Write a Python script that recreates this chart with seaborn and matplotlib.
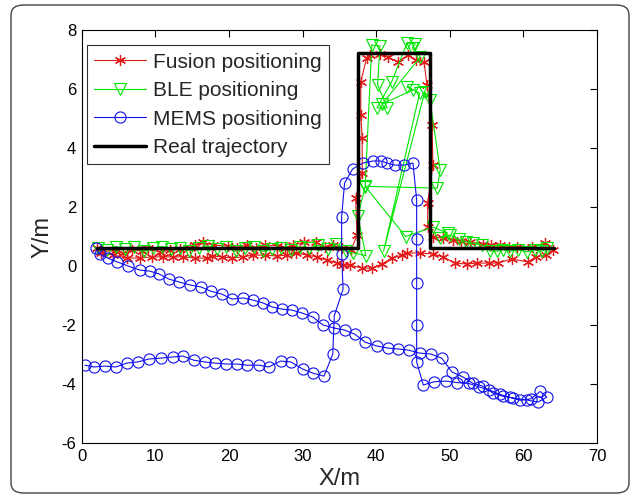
import matplotlib
matplotlib.use("Agg")
import matplotlib.pyplot as plt
from matplotlib.patches import FancyBboxPatch
import seaborn as sns
import pandas as pd

# ---- data ----
real_x = [2.0, 37.5, 37.5, 47.3, 47.3, 64.2]
real_y = [0.6, 0.6, 7.22, 7.22, 0.6, 0.6]

fusion_x = [2.0, 2.6, 4.5, 5.6, 6.8, 8.2, 9.0, 10.6, 12.0, 13.3, 14.7, 15.4, 16.4, 17.8,
            19.8, 21.1, 22.4, 23.6, 24.9, 26.5, 27.6, 28.7, 30.2, 31.8, 33.0, 34.1, 35.4,
            36.6, 37.4, 37.2, 38.1, 38.1, 37.9, 37.9, 38.7, 39.1, 40.5, 41.6, 43.0, 44.3,
            45.4, 46.5, 46.9, 47.6, 47.7, 47.0, 47.0, 47.7, 49.1, 50.4, 51.5, 52.7, 54.5,
            55.6, 56.8, 58.0, 59.1, 61.2, 62.9, 64.0, 63.1, 61.7, 60.6, 58.4, 56.5, 55.3,
            53.7, 52.3, 50.7, 49.1, 47.7, 45.9, 44.2, 43.5, 42.1, 40.8, 39.4, 38.1, 36.4,
            35.5, 34.7, 33.3, 31.9, 30.6, 29.1, 27.9, 26.5, 24.9, 23.2, 21.9, 20.4, 19.0,
            17.7, 17.0, 15.4, 13.7, 12.4, 11.0, 9.5, 7.9, 6.1, 4.2, 2.6]
fusion_y = [0.6, 0.51, 0.51, 0.44, 0.54, 0.51, 0.61, 0.47, 0.54, 0.58, 0.61, 0.71, 0.81, 0.71,
            0.68, 0.62, 0.71, 0.6, 0.71, 0.68, 0.6, 0.71, 0.81, 0.81, 0.65, 0.71, 0.62,
            0.55, 1.05, 2.31, 3.15, 4.34, 5.12, 6.24, 7.05, 7.15, 7.19, 7.08, 6.92, 7.15,
            6.98, 6.92, 6.14, 4.78, 3.42, 2.14, 1.32, 0.98, 0.95, 0.88, 0.85, 0.81, 0.75,
            0.72, 0.71, 0.65, 0.64, 0.64, 0.78, 0.54, 0.37, 0.31, 0.14, 0.24, 0.1, 0.1,
            0.1, 0.07, 0.1, 0.31, 0.41, 0.44, 0.44, 0.37, 0.27, 0.07, -0.07, -0.07, 0.03,
            0.03, 0.1, 0.2, 0.31, 0.37, 0.44, 0.37, 0.34, 0.37, 0.37, 0.31, 0.27, 0.31,
            0.34, 0.27, 0.27, 0.31, 0.31, 0.31, 0.31, 0.27, 0.27, 0.37, 0.44]

ble_x = [2.2, 3.4, 4.6, 5.9, 7.1, 8.4, 9.6, 10.9, 12.1, 13.4, 14.6, 15.9, 17.1, 18.4, 19.6,
         20.9, 22.1, 23.4, 24.6, 25.9, 27.1, 28.4, 29.6, 30.9, 32.1, 33.4, 34.6, 35.9,
         36.8, 38.6, 37.5, 38.5, 39.4, 40.5, 40.2, 41.5, 40.1, 42.1, 44.2, 45.3, 44.9,
         46.0, 40.8, 45.0, 44.2, 45.9, 41.0, 46.6, 47.3, 48.7, 48.3, 38.5, 44.0, 47.7,
         49.7, 48.7, 50.0, 51.3, 52.2, 53.1, 54.4, 55.5, 56.4, 57.2, 58.2, 59.3, 60.5,
         61.6, 62.5, 63.2]
ble_y = [0.62, 0.55, 0.66, 0.58, 0.63, 0.5, 0.6, 0.66, 0.57, 0.62, 0.52, 0.6, 0.68, 0.58, 0.63,
         0.5, 0.6, 0.64, 0.5, 0.58, 0.62, 0.55, 0.65, 0.6, 0.7, 0.58, 0.75, 0.5,
         0.45, 0.35, 1.7, 2.68, 7.49, 7.46, 6.14, 5.36, 5.36, 6.24, 7.56, 7.53, 7.39,
         7.08, 5.49, 5.97, 6.07, 5.86, 0.5, 5.9, 5.63, 3.25, 2.64, 2.70, 1.0, 1.32,
         1.12, 0.95, 1.05, 0.9, 0.82, 0.78, 0.71, 0.51, 0.5, 0.55, 0.5, 0.55, 0.48,
         0.55, 0.5, 0.6]

mems_x = [1.9, 2.4, 3.5, 4.8, 6.3, 7.9, 9.2, 10.5, 11.8, 13.2, 14.7, 16.2, 17.5, 19.0, 20.4,
          21.9, 23.2, 24.6, 25.9, 27.2, 28.5, 29.9, 31.4, 32.8, 34.3, 35.7, 37.1, 38.5,
          40.1, 41.6, 43.0, 44.4, 45.9, 47.4, 48.9, 50.3, 51.8, 53.1, 54.5, 55.9, 57.2,
          58.6, 60.5, 62.0, 63.2,
          62.3, 61.0, 59.6, 58.2, 56.8, 55.4, 54.0, 52.6, 51.0, 49.5, 47.9, 46.4, 45.5,
          45.5, 45.5, 45.5, 45.5, 45.0, 43.8, 42.5, 41.5, 40.6, 39.6, 38.2, 36.8, 35.7,
          35.3, 35.3, 35.5, 34.3, 34.1, 32.9, 31.4, 30.0, 28.4, 27.0, 25.4, 24.1, 22.4,
          21.1, 19.6, 18.1, 16.7, 15.2, 13.7, 12.4, 10.7, 9.1, 7.6, 6.1, 4.6, 3.1, 1.6, 0.4]
mems_y = [0.61, 0.41, 0.27, 0.14, 0.0, -0.14, -0.17, -0.27, -0.44, -0.54, -0.64, -0.71, -0.85,
          -0.95, -1.12, -1.08, -1.15, -1.25, -1.39, -1.46, -1.49, -1.59, -1.73, -2.0, -2.1,
          -2.17, -2.31, -2.58, -2.71, -2.78, -2.81, -2.85, -2.95, -2.98, -3.12, -3.59, -3.76,
          -3.97, -4.07, -4.31, -4.41, -4.47, -4.54, -4.61, -4.44,
          -4.25, -4.5, -4.55, -4.45, -4.35, -4.2, -4.1, -3.98, -3.95, -3.9, -3.92, -4.03,
          -3.25, -2.0, -0.58, 0.92, 2.24, 3.49, 3.42, 3.42, 3.49, 3.56, 3.56, 3.49, 3.29,
          2.81, 1.66, 0.41, -0.78, -1.69, -2.98, -3.73, -3.63, -3.49, -3.25, -3.22, -3.42,
          -3.36, -3.36, -3.32, -3.32, -3.29, -3.25, -3.19, -3.05, -3.08, -3.12, -3.15, -3.25,
          -3.29, -3.42, -3.39, -3.42, -3.36]

x_ticks = [0, 10, 20, 30, 40, 50, 60, 70]
y_ticks = [-6, -4, -2, 0, 2, 4, 6, 8]

# ---- style ----
sns.set_style("white")
plt.rcParams['font.family'] = ['Liberation Sans', 'DejaVu Sans']

fig = plt.figure(figsize=(6.35, 4.99), dpi=100)
ax = fig.add_axes([0.129, 0.112, 0.811, 0.828])

frame = FancyBboxPatch((11 / 635, 6 / 499), 618 / 635, 488 / 499,
                       boxstyle="round,pad=0,rounding_size=0.02",
                       transform=fig.transFigure, fill=False,
                       edgecolor="#444444", linewidth=1.0)
fig.patches.append(frame)

fus = pd.DataFrame({"x": fusion_x, "y": fusion_y})
ble = pd.DataFrame({"x": ble_x, "y": ble_y})
mem = pd.DataFrame({"x": mems_x, "y": mems_y})
real = pd.DataFrame({"x": real_x, "y": real_y})

red = "#e41a1a"
green = "#00e600"
blue = "#1010ee"

sns.lineplot(data=fus, x="x", y="y", sort=False, estimator=None, ax=ax,
             color=red, linewidth=0.8, marker=(6, 2, 0), markersize=8,
             markeredgecolor=red, markerfacecolor=red,
             markeredgewidth=0.9, label="Fusion positioning")
sns.lineplot(data=ble, x="x", y="y", sort=False, estimator=None, ax=ax,
             color=green, linewidth=0.8, marker="v", markersize=8,
             markeredgecolor=green, markerfacecolor="none",
             markeredgewidth=0.8, label="BLE positioning")
sns.lineplot(data=mem, x="x", y="y", sort=False, estimator=None, ax=ax,
             color=blue, linewidth=0.8, marker="o", markersize=8,
             markeredgecolor=blue, markerfacecolor="none",
             markeredgewidth=0.8, label="MEMS positioning")
sns.lineplot(data=real, x="x", y="y", sort=False, estimator=None, ax=ax,
             color="black", linewidth=2.5, label="Real trajectory")

ax.set_xlim(0, 70)
ax.set_ylim(-6, 8)
ax.set_xticks(x_ticks)
ax.set_yticks(y_ticks)
ax.set_xticklabels([str(t) for t in x_ticks])
ax.set_yticklabels([str(t) for t in y_ticks])
ax.tick_params(direction="in", length=5, width=0.8, top=True, right=True,
               labelsize=12, colors="black", pad=4)
for s in ax.spines.values():
    s.set_color("black")
    s.set_linewidth(0.8)
ax.set_xlabel("X/m", fontsize=17, labelpad=3)
ax.set_ylabel("Y/m", fontsize=17, labelpad=6)

leg = ax.legend(loc="upper left", fontsize=15, frameon=True, fancybox=False,
                edgecolor="black", handlelength=2.5, labelspacing=0.45,
                borderaxespad=0.25, handletextpad=0.3, borderpad=0.35,
                bbox_to_anchor=(0.0, 0.975))
leg.get_frame().set_linewidth(0.8)

fig.savefig("out.png", dpi=100)
